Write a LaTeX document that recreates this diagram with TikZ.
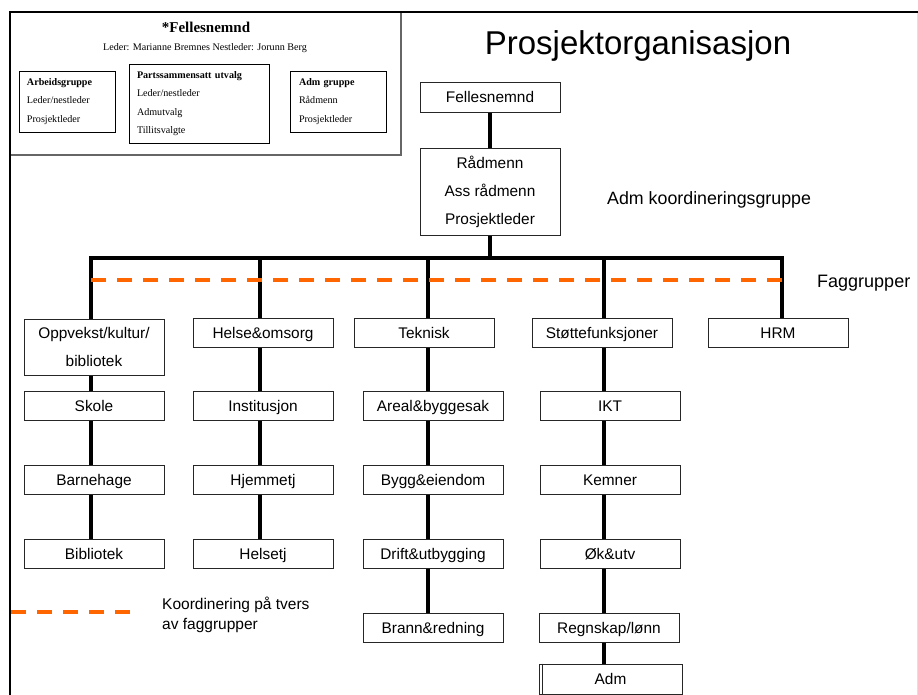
\documentclass[tikz,border=0pt]{standalone}
\usepackage{fontspec}
\setmainfont{Liberation Sans}
\newfontfamily\timesf{Liberation Serif}
\usetikzlibrary{backgrounds}
\definecolor{orng}{RGB}{255,102,0}
\begin{document}
\begin{tikzpicture}[x=1pt,y=-1pt,
  boxbase/.style={draw=black!85,line width=0.9pt,fill=white,minimum width=140,minimum height=29,inner sep=0,font=\fontsize{15.4}{18}\selectfont},
  box/.style={boxbase,text height=11,text depth=0},
  mbox/.style={boxbase,align=center,font=\fontsize{15.4}{28}\selectfont},
  conn/.style={line width=3.2pt,black,line cap=rect,line join=miter},
  dashor/.style={draw=orng,line width=4pt,dash pattern=on 15pt off 11pt},
  sbox/.style={draw=black,line width=0.9pt,fill=white,inner xsep=8,inner ysep=0,align=left,font=\timesf\fontsize{10.1}{18.5}\selectfont},
  lab/.style={inner sep=0}]
\useasboundingbox (0,0) rectangle (918,695);

% page frame and top-left panel
\draw[line width=1.5pt,black!60] (401,12) -- (401,155) -- (10,155);
\draw[black!12,line width=0.8pt] (917,12) -- (917,695);
\draw[line width=2.2pt] (10,695) -- (10,12) -- (918,12);

\node[lab,font=\timesf\bfseries\fontsize{15}{18}\selectfont] (fnt) at (206,27) {*Fellesnemnd};
\node[lab,font=\timesf\fontsize{10.1}{12}\selectfont] (led) at (205,48) {Leder: Marianne Bremnes Nestleder: Jorunn Berg};
\node[sbox,text width=80,minimum height=61] (arb) at (67,101.5) {\textbf{Arbeidsgruppe}\\Leder/nestleder\\Prosjektleder};
\node[sbox,text width=124,minimum height=79] (par) at (199,103.5) {\textbf{Partssammensatt utvalg}\\Leder/nestleder\\Admutvalg\\Tillitsvalgte};
\node[sbox,text width=78,inner xsep=9,minimum height=61] (admg) at (338,101.5) {\textbf{Adm gruppe}\\Rådmenn\\Prosjektleder};

% title and labels
\node[lab,font=\fontsize{33}{36}\selectfont] (title) at (638,46) {Prosjektorganisasjon};
\node[lab,font=\fontsize{17.8}{20}\selectfont,anchor=west] (akg) at (607,200) {Adm koordineringsgruppe};
\node[lab,font=\fontsize{18}{20}\selectfont,anchor=west] (fag) at (817,283) {Faggrupper};
\node[lab,anchor=west,align=left,font=\fontsize{15.5}{20}\selectfont] (leg) at (162,615) {Koordinering på tvers\\av faggrupper};

% top boxes
\node[box,minimum height=30] (fel) at (490,97) {Fellesnemnd};
\node[mbox,minimum height=87] (rad) at (490,191.5) {Rådmenn\\Ass rådmenn\\Prosjektleder};

% row 1
\node[mbox,minimum height=56] (op) at (94,347) {Oppvekst/kultur/\\bibliotek};
\node[box] (he) at (263,333) {Helse\&omsorg};
\node[box] (te) at (424,333) {Teknisk};
\node[box] (st) at (602,333) {Støttefunksjoner};
\node[box] (hrm) at (778,333) {HRM};
% row 2
\node[box] (sk) at (94,405.5) {Skole};
\node[box] (ins) at (263,406) {Institusjon};
\node[box] (ar) at (433,405.5) {Areal\&byggesak};
\node[box] (ikt) at (610,405.5) {IKT};
% row 3
\node[box] (ba) at (94,480) {Barnehage};
\node[box] (hj) at (263,480) {Hjemmetj};
\node[box] (by) at (433,480) {Bygg\&eiendom};
\node[box] (ke) at (610,480) {Kemner};
% row 4
\node[box] (bi) at (94,554) {Bibliotek};
\node[box] (hs) at (263,554) {Helsetj};
\node[box] (dr) at (433,554) {Drift\&utbygging};
\node[box] (ok) at (610,554) {Øk\&utv};
% row 5
\node[box] (bra) at (433,627.5) {Brann\&redning};
\node[box] (reg) at (609,627.5) {Regnskap/lønn};
% row 6
\node[box,minimum width=143,minimum height=30] (adm) at (610.5,679) {Adm};
\draw[black!85,line width=0.9pt] ([xshift=4pt]adm.north west) -- ([xshift=4pt]adm.south west);

% junction coordinates
\coordinate (j1) at (91,258);
\coordinate (j2) at (260,258);
\coordinate (j3) at (428,258);
\coordinate (j4) at (604,258);
\coordinate (j5) at (782,258);

\begin{scope}[on background layer]
\draw[conn] (fel.south) -- (rad.north);
\draw[conn] (rad.south) -- (rad.south |- j1);
\draw[conn] (j1 |- op.north) -- (j1) -- (j5) -- (j5 |- hrm.north);
\draw[conn] (j2) -- (j2 |- he.north);
\draw[conn] (j3) -- (j3 |- te.north);
\draw[conn] (j4) -- (j4 |- st.north);
% column 1
\draw[conn] (j1 |- op.south) -- (j1 |- sk.north);
\draw[conn] (j1 |- sk.south) -- (j1 |- ba.north);
\draw[conn] (j1 |- ba.south) -- (j1 |- bi.north);
% column 2
\draw[conn] (j2 |- he.south) -- (j2 |- ins.north);
\draw[conn] (j2 |- ins.south) -- (j2 |- hj.north);
\draw[conn] (j2 |- hj.south) -- (j2 |- hs.north);
% column 3
\draw[conn] (j3 |- te.south) -- (j3 |- ar.north);
\draw[conn] (j3 |- ar.south) -- (j3 |- by.north);
\draw[conn] (j3 |- by.south) -- (j3 |- dr.north);
\draw[conn] (j3 |- dr.south) -- (j3 |- bra.north);
% column 4
\draw[conn] (j4 |- st.south) -- (j4 |- ikt.north);
\draw[conn] (j4 |- ikt.south) -- (j4 |- ke.north);
\draw[conn] (j4 |- ke.south) -- (j4 |- ok.north);
\draw[conn] (j4 |- ok.south) -- (j4 |- reg.north);
\draw[conn] (j4 |- reg.south) -- (j4 |- adm.north);
\end{scope}

% dashed coordination lines
\coordinate (dl) at (91,280);
\coordinate (dr2) at (782,280);
\draw[dashor] (dl) -- (dr2);
\coordinate (lg1) at (11,612);
\coordinate (lg2) at (131,612);
\draw[dashor] (lg1) -- (lg2);
\end{tikzpicture}
\end{document}
